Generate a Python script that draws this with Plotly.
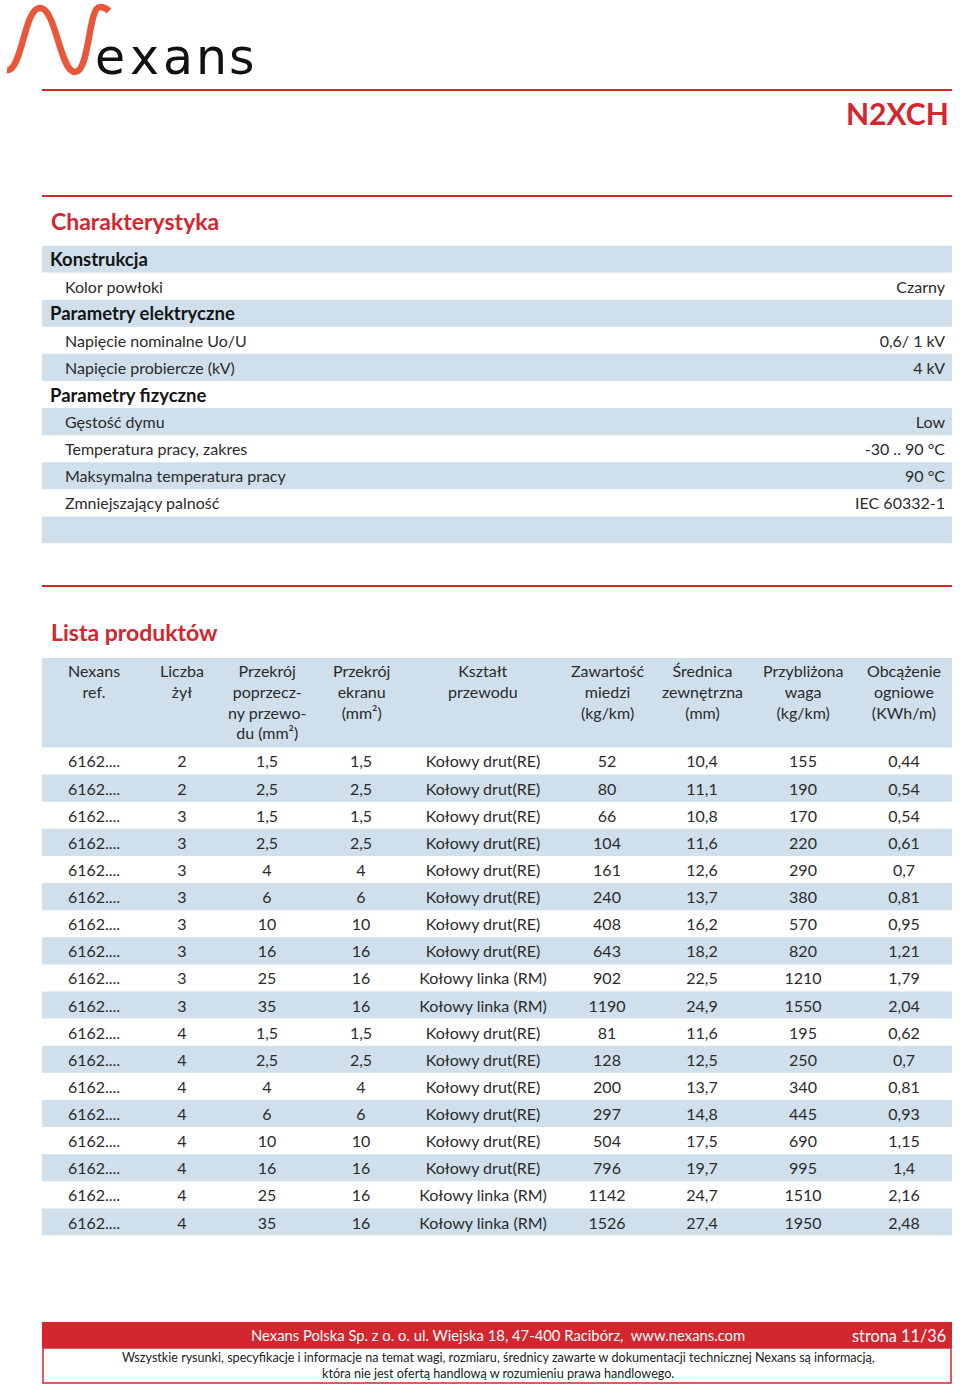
import plotly.graph_objects as go

W, H = 960, 1388
RED = "#D3262E"
BLUE = "#CFE0EC"
TXT = "#2b2b2b"
FONT = "Lato"

# ---------------- data ----------------
char_labels = ["Konstrukcja", "Kolor powłoki", "Parametry elektryczne",
               "Napięcie nominalne Uo/U", "Napięcie probiercze (kV)", "Parametry fizyczne",
               "Gęstość dymu", "Temperatura pracy, zakres", "Maksymalna temperatura pracy",
               "Zmniejszający palność", ""]
char_is_section = [True, False, True, False, False, True, False, False, False, False, True]
char_values = ["", "Czarny", "", "0,6/ 1 kV", "4 kV", "", "Low", "-30 .. 90 °C", "90 °C",
               "IEC 60332-1", ""]

headers = ["Nexans<br>ref.", "Liczba<br>żył", "Przekrój<br>poprzecz-<br>ny przewo-<br>du (mm²)",
           "Przekrój<br>ekranu<br>(mm²)", "Kształt<br>przewodu", "Zawartość<br>miedzi<br>(kg/km)",
           "Średnica<br>zewnętrzna<br>(mm)", "Przybliżona<br>waga<br>(kg/km)",
           "Obcążenie<br>ogniowe<br>(KWh/m)"]
ref = ["6162...."] * 18
zyly = [2, 2, 3, 3, 3, 3, 3, 3, 3, 3, 4, 4, 4, 4, 4, 4, 4, 4]
przekroj = [1.5, 2.5, 1.5, 2.5, 4, 6, 10, 16, 25, 35, 1.5, 2.5, 4, 6, 10, 16, 25, 35]
ekran = [1.5, 2.5, 1.5, 2.5, 4, 6, 10, 16, 16, 16, 1.5, 2.5, 4, 6, 10, 16, 16, 16]
ksztalt = (["Kołowy drut(RE)"] * 8 + ["Kołowy linka (RM)"] * 2 +
           ["Kołowy drut(RE)"] * 6 + ["Kołowy linka (RM)"] * 2)
miedz = [52, 80, 66, 104, 161, 240, 408, 643, 902, 1190, 81, 128, 200, 297, 504, 796, 1142, 1526]
srednica = [10.4, 11.1, 10.8, 11.6, 12.6, 13.7, 16.2, 18.2, 22.5, 24.9, 11.6, 12.5, 13.7, 14.8,
            17.5, 19.7, 24.7, 27.4]
waga = [155, 190, 170, 220, 290, 380, 570, 820, 1210, 1550, 195, 250, 340, 445, 690, 995, 1510, 1950]
obciazenie = [0.44, 0.54, 0.54, 0.61, 0.7, 0.81, 0.95, 1.21, 1.79, 2.04, 0.62, 0.7, 0.81, 0.93,
              1.15, 1.4, 2.16, 2.48]


def fmt(v):
    return f"{v:g}".replace(".", ",")


def py(y):
    return 1 - y / H


# layout geometry (pixels)
X0, X1 = 42, 952
col_centers = [94, 182, 267, 361, 483, 607, 702, 803, 904]
TSHIFT = 2.5  # text baseline nudge

fig = go.Figure()

nC = len(char_labels)
rows_c = list(range(nC))
nP = len(ref)
rows_p = list(range(nP))

# ---------------- zebra bands (bars) ----------------
shaded_c = [i for i in rows_c if i % 2 == 0]
shaded_p = [i for i in rows_p if i % 2 == 1]
fig.add_trace(go.Bar(y=shaded_c, x=[X1 - X0] * len(shaded_c), base=X0, orientation="h",
                     width=1, marker=dict(color=BLUE, line=dict(width=0)), hoverinfo="skip",
                     xaxis="x", yaxis="y"))
fig.add_trace(go.Bar(y=shaded_p, x=[X1 - X0] * len(shaded_p), base=X0, orientation="h",
                     width=1, marker=dict(color=BLUE, line=dict(width=0)), hoverinfo="skip",
                     xaxis="x", yaxis="y2"))

# ---------------- characteristics text ----------------
sec_color = ["#141414" if s else TXT for s in char_is_section]
sec_size = [18.5 if s else 16 for s in char_is_section]
fig.add_trace(go.Scatter(
    x=[50 if s else 65 for s in char_is_section], y=rows_c,
    text=[f"<b>{l}</b>" if s else l for l, s in zip(char_labels, char_is_section)],
    mode="text", textposition="middle right", hoverinfo="skip",
    textfont=dict(family=FONT, size=sec_size, color=sec_color),
    xaxis="x", yaxis="y3"))
fig.add_trace(go.Scatter(
    x=[945] * nC, y=rows_c, text=char_values,
    mode="text", textposition="middle left", hoverinfo="skip",
    textfont=dict(family=FONT, size=16, color=TXT),
    xaxis="x", yaxis="y3"))

# ---------------- products text ----------------
cols = [ref, [fmt(v) for v in zyly], [fmt(v) for v in przekroj], [fmt(v) for v in ekran],
        ksztalt, [fmt(v) for v in miedz], [fmt(v) for v in srednica], [fmt(v) for v in waga],
        [fmt(v) for v in obciazenie]]
for cx, col in zip(col_centers, cols):
    fig.add_trace(go.Scatter(
        x=[cx] * nP, y=rows_p, text=col, mode="text", textposition="middle center",
        hoverinfo="skip", textfont=dict(family=FONT, size=16, color=TXT),
        xaxis="x", yaxis="y4"))

shapes = []
annotations = []

# product header band
shapes.append(dict(type="rect", xref="x", yref="paper", x0=X0, x1=X1, y0=py(747.5), y1=py(658),
                   fillcolor=BLUE, line=dict(width=0), layer="below"))
for cx, htxt in zip(col_centers, headers):
    annotations.append(dict(text=htxt, x=cx, y=py(659), xref="x", yref="paper",
                            showarrow=False, xanchor="center", yanchor="top", align="center",
                            font=dict(family=FONT, size=16, color=TXT)))

# logo wave
wave = "M 7,70 C 22,72 24,8 40,8 C 56,8 60,72 75,72 C 90,72 88,7 100,7 C 104,7 107,9 109,11"
shapes.append(dict(type="path", xref="x", yref="paper",
                   path=" ".join(
                       (f"{float(t.split(',')[0])},{py(float(t.split(',')[1]))}" if "," in t else t)
                       for t in wave.split()),
                   line=dict(color="#E9573B", width=6.5)))
for ch, cx in zip("exans", [110, 144, 178, 211, 242]):
    annotations.append(dict(text=ch, x=cx, y=py(57), xref="x", yref="paper",
                            showarrow=False, xanchor="center", yanchor="middle",
                            font=dict(family="DejaVu Sans", size=49, color="#111")))

# red rules
for yy in [90, 196, 586]:
    shapes.append(dict(type="line", xref="x", yref="paper", x0=X0, x1=X1,
                       y0=py(yy), y1=py(yy), line=dict(color=RED, width=2)))

annotations.append(dict(text="<b>N2XCH</b>", x=951, y=py(113), xref="x", yref="paper",
                        showarrow=False, xanchor="right", yanchor="middle",
                        font=dict(family=FONT, size=30, color=RED, weight=900)))
annotations.append(dict(text="<b>Charakterystyka</b>", x=49, y=py(221), xref="x",
                        yref="paper", showarrow=False, xanchor="left", yanchor="middle",
                        font=dict(family=FONT, size=23, color=RED, weight=900)))
annotations.append(dict(text="<b>Lista produktów</b>", x=49, y=py(632), xref="x",
                        yref="paper", showarrow=False, xanchor="left", yanchor="middle",
                        font=dict(family=FONT, size=23, color=RED, weight=900)))

# footer
shapes.append(dict(type="rect", xref="x", yref="paper", x0=X0, x1=X1,
                   y0=py(1348), y1=py(1322), fillcolor=RED, line=dict(width=0)))
shapes.append(dict(type="rect", xref="x", yref="paper", x0=X0 + 1, x1=X1 - 1,
                   y0=py(1383), y1=py(1348), fillcolor="white", line=dict(color=RED, width=1.5)))
annotations.append(dict(text="Nexans Polska Sp. z o. o. ul. Wiejska 18, 47-400 Racibórz,  www.nexans.com",
                        x=498, y=py(1335), xref="x", yref="paper", showarrow=False,
                        xanchor="center", yanchor="middle",
                        font=dict(family=FONT, size=14.8, color="white")))
annotations.append(dict(text="strona 11/36", x=948, y=py(1335), xref="x", yref="paper",
                        showarrow=False, xanchor="right", yanchor="middle",
                        font=dict(family=FONT, size=16.3, color="white")))
annotations.append(dict(text="Wszystkie rysunki, specyfikacje i informacje na temat wagi, rozmiaru, średnicy zawarte w dokumentacji technicznej Nexans są informacją,",
                        x=498, y=py(1357), xref="x", yref="paper", showarrow=False,
                        xanchor="center", yanchor="middle",
                        font=dict(family=FONT, size=12.6, color="#222")))
annotations.append(dict(text="która nie jest ofertą handlową w rozumieniu prawa handlowego.",
                        x=498, y=py(1373), xref="x", yref="paper", showarrow=False,
                        xanchor="center", yanchor="middle",
                        font=dict(family=FONT, size=12.6, color="#222")))

ax_common = dict(visible=False, fixedrange=True, anchor="x")
fig.update_layout(
    width=W, height=H, margin=dict(l=0, r=0, t=0, b=0, autoexpand=False),
    paper_bgcolor="white", plot_bgcolor="rgba(0,0,0,0)",
    shapes=shapes, annotations=annotations, showlegend=False,
    font=dict(family=FONT), barmode="overlay",
    xaxis=dict(range=[0, W], domain=[0, 1], visible=False, fixedrange=True),
    yaxis=dict(domain=[py(543.5), py(245.5)], range=[nC - 0.5, -0.5], **ax_common),
    yaxis2=dict(domain=[py(1235.6), py(747.4)], range=[nP - 0.5, -0.5], **ax_common),
    yaxis3=dict(domain=[py(543.5 + TSHIFT), py(245.5 + TSHIFT)], range=[nC - 0.5, -0.5],
                **ax_common),
    yaxis4=dict(domain=[py(1235.6 + TSHIFT), py(747.4 + TSHIFT)], range=[nP - 0.5, -0.5],
                **ax_common),
)

fig.write_html("out.html", config={"displayModeBar": False},
               post_script="document.body.style.margin='0px';")
